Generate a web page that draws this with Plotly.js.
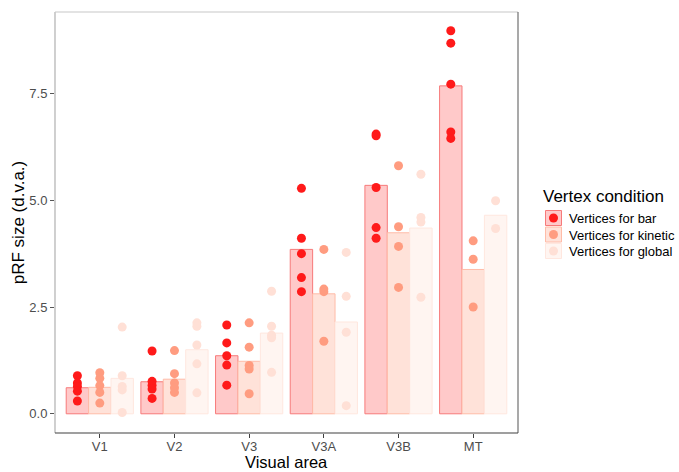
<!DOCTYPE html>
<html>
<head>
<meta charset="utf-8">
<script src="https://cdn.plot.ly/plotly-3.0.1.min.js"></script>
<style>html,body{margin:0;padding:0;background:#fff;}#chart{width:679px;height:472px;}</style>
</head>
<body>
<div id="chart"></div>
<script>
// ---- data ----
const areas = ["V1", "V2", "V3", "V3A", "V3B", "MT"];
const conditions = ["Vertices for bar", "Vertices for kinetic", "Vertices for global"];

// bar heights (mean pRF size)
const barMeans     = [0.61, 0.75, 1.36, 3.85, 5.35, 7.68];
const kineticMeans = [0.62, 0.81, 1.23, 2.81, 4.24, 3.38];
const globalMeans  = [0.83, 1.50, 1.89, 2.15, 4.35, 4.65];

// individual points per area
const barPoints = [
  [0.89, 0.72, 0.64, 0.53, 0.30],
  [1.47, 0.76, 0.67, 0.58, 0.36],
  [2.08, 1.66, 1.36, 1.14, 0.67],
  [5.28, 4.11, 3.75, 3.19, 2.86],
  [6.55, 6.51, 5.30, 4.36, 4.11],
  [8.97, 8.68, 7.72, 6.60, 6.45]
];
const kineticPoints = [
  [0.96, 0.83, 0.66, 0.50, 0.25],
  [1.48, 0.94, 0.72, 0.61, 0.50],
  [2.13, 1.56, 1.13, 1.05, 0.47],
  [3.85, 2.92, 2.86, 1.70],
  [5.81, 4.38, 3.92, 2.96],
  [4.05, 3.62, 2.50]
];
const globalPoints = [
  [2.03, 0.89, 0.64, 0.56, 0.03],
  [2.13, 2.05, 1.61, 1.17, 0.49],
  [2.87, 2.05, 1.84, 1.78, 0.97],
  [3.78, 2.75, 1.91, 0.19],
  [5.61, 4.60, 4.49, 2.73],
  [4.99, 4.34]
];

const yTicks = [0, 2.5, 5, 7.5];
const yTickText = ["0.0", "2.5", "5.0", "7.5"];

// ---- styles ----
const pointColors = ["#FF1A1A", "#FF9C80", "#FFE0D6"];
const fillColors  = ["#FFC9C9", "#FFE2D9", "#FFF5F1"];
const lineColors  = ["#F77A7A", "#FFBCA8", "#FFE7DF"];

const means = [barMeans, kineticMeans, globalMeans];
const points = [barPoints, kineticPoints, globalPoints];

const traces = [];
conditions.forEach((c, k) => {
  traces.push({
    type: "bar", name: c, x: areas, y: means[k], offsetgroup: "g" + k,
    marker: {color: fillColors[k], line: {color: lineColors[k], width: 1}},
    showlegend: false, hoverinfo: "skip"
  });
});
conditions.forEach((c, k) => {
  const xs = [], ys = [];
  points[k].forEach((arr, i) => arr.forEach(v => { xs.push(areas[i]); ys.push(v); }));
  traces.push({
    type: "scatter", mode: "markers", name: c, x: xs, y: ys, offsetgroup: "g" + k,
    marker: {color: pointColors[k], size: 9},
    showlegend: false, hoverinfo: "skip"
  });
});

// ---- custom legend (ggplot style) ----
const L = 55, R = 518, T = 12, B = 433;
const px = p => (p - L) / (R - L);
const py = p => (B - p) / (B - T);
const shapes = [
  {type: "line", xref: "paper", yref: "paper", x0: 0, x1: 0, y0: 0, y1: 1, line: {color: "#B0B0B0", width: 1.2}},
  {type: "line", xref: "paper", yref: "paper", x0: 0, x1: 1, y0: 1, y1: 1, line: {color: "#C8C8C8", width: 1.2}},
  {type: "line", xref: "paper", yref: "paper", x0: 1, x1: 1, y0: 0, y1: 1, line: {color: "#707070", width: 1.2}},
  {type: "line", xref: "paper", yref: "paper", x0: 0, x1: 1, y0: 0, y1: 0, line: {color: "#404040", width: 1.2}}
];
const annotations = [
  {xref: "paper", yref: "paper", x: px(541), y: py(196), xanchor: "left", yanchor: "middle",
   text: "Vertex condition", showarrow: false, font: {size: 17, color: "#000", family: "Liberation Sans, Arial, sans-serif"}},
  {xref: "paper", yref: "paper", x: 0.5, y: py(462), xanchor: "center", yanchor: "middle",
   text: "Visual area", showarrow: false, borderpad: 0, font: {size: 16.5, color: "#000", family: "Liberation Sans, Arial, sans-serif"}}
];
const keyCenters = [218, 234.5, 251];
conditions.forEach((c, k) => {
  const cy = keyCenters[k];
  shapes.push({type: "rect", xref: "paper", yref: "paper", x0: px(545.5), x1: px(561.5), y0: py(cy - 7.5), y1: py(cy + 7.5),
    fillcolor: fillColors[k], line: {color: lineColors[k], width: 1}});
  shapes.push({type: "circle", xref: "paper", yref: "paper", x0: px(549), x1: px(558), y0: py(cy - 4.5), y1: py(cy + 4.5),
    fillcolor: pointColors[k], line: {width: 0}});
  annotations.push({xref: "paper", yref: "paper", x: px(567), y: py(cy + 0.5), xanchor: "left", yanchor: "middle",
    text: c, showarrow: false, font: {size: 13, color: "#000", family: "Liberation Sans, Arial, sans-serif"}});
});

const layout = {
  width: 679, height: 472,
  margin: {l: L, r: 679 - R, t: T, b: 472 - B},
  paper_bgcolor: "#fff", plot_bgcolor: "#fff",
  font: {family: "Liberation Sans, Arial, sans-serif", color: "#4D4D4D", size: 13},
  barmode: "group", bargap: 0.1, bargroupgap: 0,
  scattermode: "group", scattergap: 0.1,
  showlegend: false,
  xaxis: {
    type: "category", range: [-0.6, 5.6], showgrid: false, zeroline: false,
    ticks: "outside", ticklen: 4, tickcolor: "#404040", tickwidth: 1,
    ticklabelstandoff: -3,
    tickfont: {size: 13, color: "#4D4D4D"}
  },
  yaxis: {
    range: [-0.45, 9.41], showgrid: false, zeroline: false,
    tickvals: yTicks, ticktext: yTickText,
    ticks: "outside", ticklen: 4, tickcolor: "#555", tickwidth: 1,
    tickfont: {size: 13, color: "#4D4D4D"},
    title: {text: "pRF size (d.v.a.)", font: {size: 17, color: "#000"}, standoff: 0}
  },
  shapes: shapes,
  annotations: annotations
};

Plotly.newPlot("chart", traces, layout, {staticPlot: true, displayModeBar: false});
</script>
</body>
</html>
